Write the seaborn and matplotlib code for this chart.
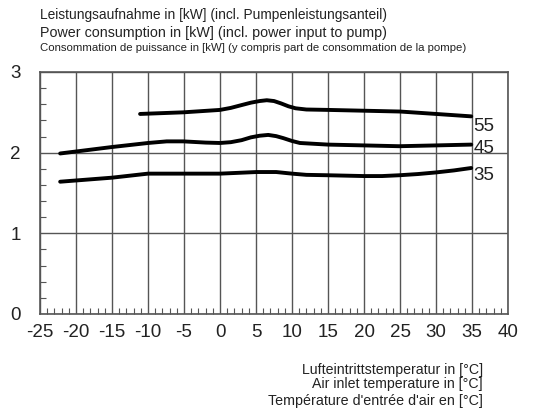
import matplotlib
matplotlib.use("Agg")
import matplotlib.pyplot as plt
import seaborn as sns
import pandas as pd
from matplotlib.ticker import MultipleLocator

# Data
x55 = [-11.1, -5.1, 0.0, 1.5, 3.0, 4.3, 5.5, 6.5, 7.5, 8.5, 9.5, 10.5, 12.0, 15.0, 20.0, 25.0, 30.0, 34.9]
y55 = [2.48, 2.50, 2.53, 2.555, 2.59, 2.62, 2.64, 2.65, 2.64, 2.61, 2.575, 2.55, 2.535, 2.53, 2.52, 2.51, 2.48, 2.45]

x45 = [-22.2, -15.0, -10.0, -7.4, -5.1, -2.0, 0.0, 1.5, 3.0, 4.3, 5.5, 6.7, 7.8, 8.8, 10.0, 11.1, 15.0, 20.0, 24.9, 30.0, 34.9]
y45 = [1.99, 2.07, 2.12, 2.14, 2.14, 2.125, 2.12, 2.13, 2.155, 2.19, 2.21, 2.22, 2.205, 2.18, 2.145, 2.12, 2.10, 2.09, 2.08, 2.09, 2.10]

x35 = [-22.2, -15.0, -10.0, -5.0, 0.0, 5.1, 7.8, 10.0, 12.0, 15.0, 20.0, 22.5, 24.9, 27.5, 30.0, 32.5, 34.9]
y35 = [1.64, 1.69, 1.74, 1.74, 1.74, 1.76, 1.76, 1.74, 1.725, 1.72, 1.71, 1.71, 1.72, 1.735, 1.755, 1.78, 1.81]

series_names = ["55", "45", "35"]
xticks = list(range(-25, 45, 5))
yticks = [0, 1, 2, 3]

df = pd.concat([
    pd.DataFrame({"x": x55, "y": y55, "s": "55"}),
    pd.DataFrame({"x": x45, "y": y45, "s": "45"}),
    pd.DataFrame({"x": x35, "y": y35, "s": "35"}),
], ignore_index=True)

sns.set_style("white")
plt.rcParams["font.family"] = ["Liberation Sans", "DejaVu Sans"]

fig = plt.figure(figsize=(5.57, 4.12), dpi=100)
ax = fig.add_axes([40/557, 1 - 314/412, 468/557, 242/412])

grid_c = "#555555"
ax.set_xlim(-25, 40)
ax.set_ylim(0, 3)
ax.set_xticks(xticks)
ax.set_yticks(yticks)
ax.set_xticklabels([str(v) for v in xticks], fontsize=13.5, color="#222222")
ax.set_yticklabels([str(v) for v in yticks], fontsize=13.5, color="#222222")
ax.xaxis.set_minor_locator(MultipleLocator(1))
ax.yaxis.set_minor_locator(MultipleLocator(0.2))
ax.grid(True, which="major", color=grid_c, linewidth=1.0)
ax.set_axisbelow(True)
ax.tick_params(which="major", length=0, pad=7)
ax.tick_params(axis="y", which="major", pad=14)
ax.tick_params(which="minor", direction="in", length=4, width=0.8, color=grid_c)
ax.tick_params(axis="x", which="minor", bottom=True, top=False)
ax.tick_params(axis="y", which="minor", left=True, right=False)
for sp in ax.spines.values():
    sp.set_color(grid_c)
    sp.set_linewidth(1.2)

sns.lineplot(data=df, x="x", y="y", hue="s", hue_order=series_names,
             palette=["black"] * 3, linewidth=2.8, legend=False, ax=ax,
             sort=True, estimator=None)
for l in ax.lines:
    l.set_solid_capstyle("round")
    l.set_solid_joinstyle("round")
ax.set_xlabel("")
ax.set_ylabel("")

# End labels
for xs, ys, name, dy in [(x55, y55, "55", -0.12), (x45, y45, "45", -0.05), (x35, y35, "35", -0.09)]:
    ax.text(xs[-1] + 0.3, ys[-1] + dy, name, fontsize=13.5, va="center", ha="left", color="#222222")

# Titles
fig.text(40/557, 1 - 15/412, "Leistungsaufnahme in [kW] (incl. Pumpenleistungsanteil)",
         fontsize=9.9, va="center", ha="left", color="#222222")
fig.text(40/557, 1 - 33/412, "Power consumption in [kW] (incl. power input to pump)",
         fontsize=10.3, va="center", ha="left", color="#222222")
fig.text(40/557, 1 - 48/412,
         "Consommation de puissance in [kW] (y compris part de consommation de la pompe)",
         fontsize=8.2, va="center", ha="left", color="#222222")

# X label block
fig.text(483/557, 1 - 370/412, "Lufteintrittstemperatur in [°C]", fontsize=10.2,
         va="center", ha="right", color="#222222")
fig.text(483/557, 1 - 384/412, "Air inlet temperature in [°C]", fontsize=10.2,
         va="center", ha="right", color="#222222")
fig.text(483/557, 1 - 401/412, "Température d'entrée d'air en [°C]", fontsize=10.3,
         va="center", ha="right", color="#222222")

fig.savefig("out.png", dpi=100)
